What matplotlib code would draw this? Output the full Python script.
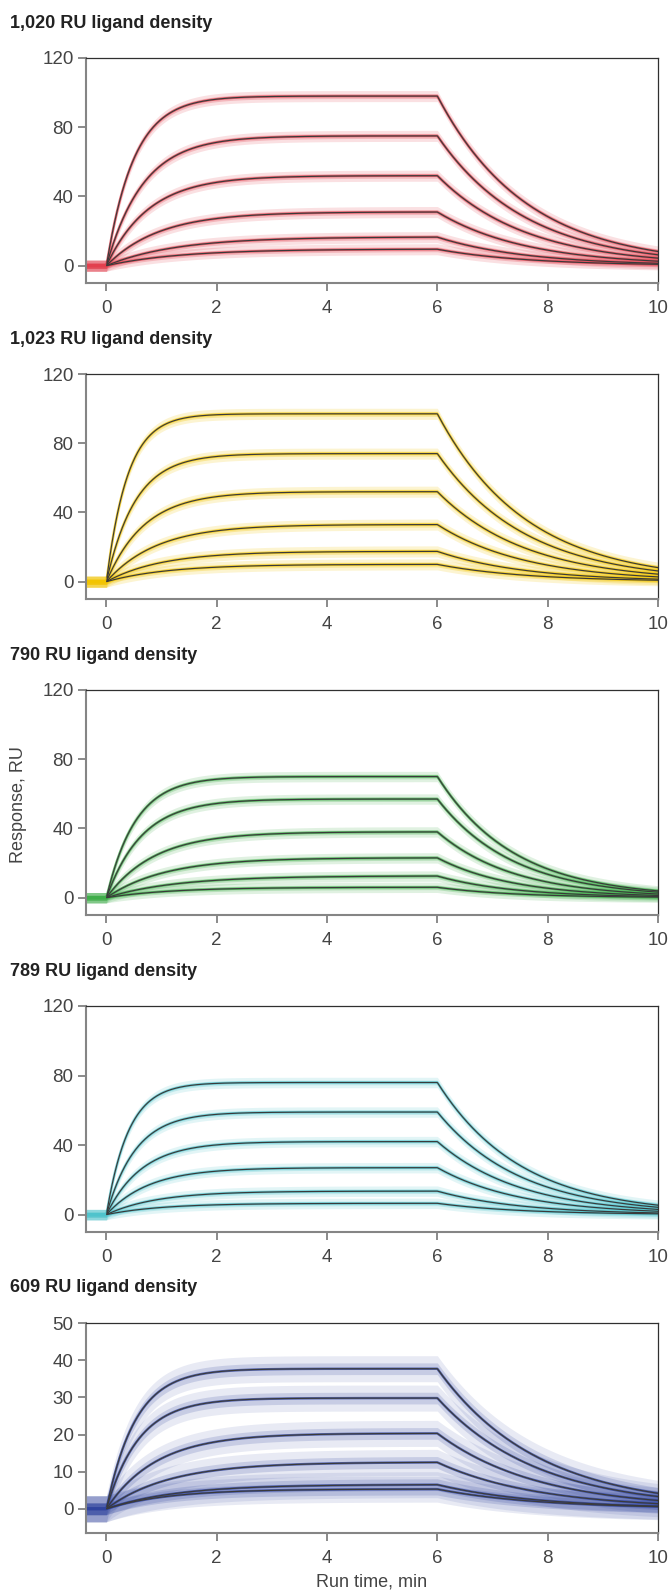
import numpy as np
import matplotlib
matplotlib.use("Agg")
import matplotlib.pyplot as plt

plt.rcParams['font.family'] = ['Liberation Sans', 'DejaVu Sans']

# Panel titles (immobilised ligand level)
titles = ["1,020 RU ligand density", "1,023 RU ligand density",
          "790 RU ligand density", "789 RU ligand density",
          "609 RU ligand density"]
trace_colors = ["#e2404e", "#f2c400", "#3fae4a", "#4fc3cc", "#30449e"]

# Response at the end of injection (RU), one value per analyte concentration
resp_end_1 = [98, 75, 52, 31, 16.5, 9.5]
resp_end_2 = [97, 74, 52, 33, 17.5, 10]
resp_end_3 = [70, 57, 38, 23, 12.5, 6]
resp_end_4 = [76, 59, 42, 27, 13.5, 6.5]
resp_end_5 = [37.7, 29.8, 20.3, 12.5, 6.5, 5.3]

# Observed association rate (1/min) for each concentration
k_obs_1 = [2.0, 1.5, 1.3, 1.05, 0.8, 0.75]
k_obs_2 = [2.6, 1.9, 1.45, 1.1, 1.0, 0.9]
k_obs_3 = [1.9, 1.55, 1.15, 0.95, 0.8, 0.85]
k_obs_4 = [2.5, 1.9, 1.55, 1.3, 1.1, 1.0]
k_obs_5 = [1.9, 1.7, 1.1, 0.88, 0.8, 0.9]

# Dissociation rate (1/min) per surface
k_diss = [0.62, 0.62, 0.72, 0.66, 0.55]

# Spread of the measured signal around the fit (RU)
noise_band = [3.2, 3.2, 3.0, 3.0, 3.5]
band_alpha = [0.16, 0.18, 0.16, 0.16, 0.11]

resp_end = [resp_end_1, resp_end_2, resp_end_3, resp_end_4, resp_end_5]
k_obs = [k_obs_1, k_obs_2, k_obs_3, k_obs_4, k_obs_5]

t_inj = 6.0
x_min, x_max = -0.37, 10
y_lims = [(-10, 120)] * 4 + [(-6.5, 50)]
y_ticks = [[0, 40, 80, 120]] * 4 + [[0, 10, 20, 30, 40, 50]]

W, H = 671, 1591
fig = plt.figure(figsize=(W / 100, H / 100), dpi=100)

left_px, right_px = 86, 658
tops_px = [58, 374, 690, 1006, 1323]
heights_px = [225, 225, 225, 226, 210]

t = np.linspace(x_min, x_max, 900)


def binding_curve(r_end, k_a, k_d):
    r = np.zeros_like(t)
    assoc = (t >= 0) & (t <= t_inj)
    r[assoc] = r_end * (1 - np.exp(-k_a * t[assoc])) / (1 - np.exp(-k_a * t_inj))
    diss = t > t_inj
    r[diss] = r_end * np.exp(-k_d * (t[diss] - t_inj))
    return r


for i in range(5):
    ax = fig.add_axes([left_px / W, 1 - (tops_px[i] + heights_px[i]) / H,
                       (right_px - left_px) / W, heights_px[i] / H])
    col = trace_colors[i]
    a = noise_band[i]
    al = band_alpha[i]
    for r_end, k_a in zip(resp_end[i], k_obs[i]):
        r = binding_curve(r_end, k_a, k_diss[i])
        ax.fill_between(t, r - a, r + a, color=col, alpha=al, lw=0)
        ax.fill_between(t, r - a * 0.45, r + a * 0.45, color=col, alpha=al * 1.6, lw=0)
        ax.plot(t, r, color=col, lw=1.8, alpha=0.75)
    for r_end, k_a in zip(resp_end[i], k_obs[i]):
        r = binding_curve(r_end, k_a, k_diss[i])
        fit = t >= 0
        ax.plot(t[fit], r[fit], color="#3a3a3a", lw=0.85)

    ax.set_xlim(x_min, x_max)
    ax.set_ylim(*y_lims[i])
    ax.set_xticks(range(0, 11, 2))
    ax.set_yticks(y_ticks[i])
    for side in ("left", "bottom"):
        ax.spines[side].set_color("#858585")
        ax.spines[side].set_linewidth(1.5)
    for side in ("top", "right"):
        ax.spines[side].set_color("#303030")
        ax.spines[side].set_linewidth(0.9)
    ax.tick_params(direction="out", length=6, width=1.2, color="#777777",
                   labelsize=13.5, labelcolor="#444444", pad=3)
    ax.tick_params(axis="x", pad=6)

    fig.text(10 / W, 1 - (tops_px[i] - 35) / H, titles[i], fontsize=13,
             fontweight="bold", color="#222222", va="center", ha="left")

fig.text(19 / W, 1 - 805 / H, "Response, RU", rotation=90, fontsize=13,
         color="#444444", ha="center", va="center")
fig.text((left_px + right_px) / 2 / W, 1 - 1582 / H, "Run time, min",
         fontsize=13, color="#444444", ha="center", va="center")

fig.savefig("out.png", dpi=100)
